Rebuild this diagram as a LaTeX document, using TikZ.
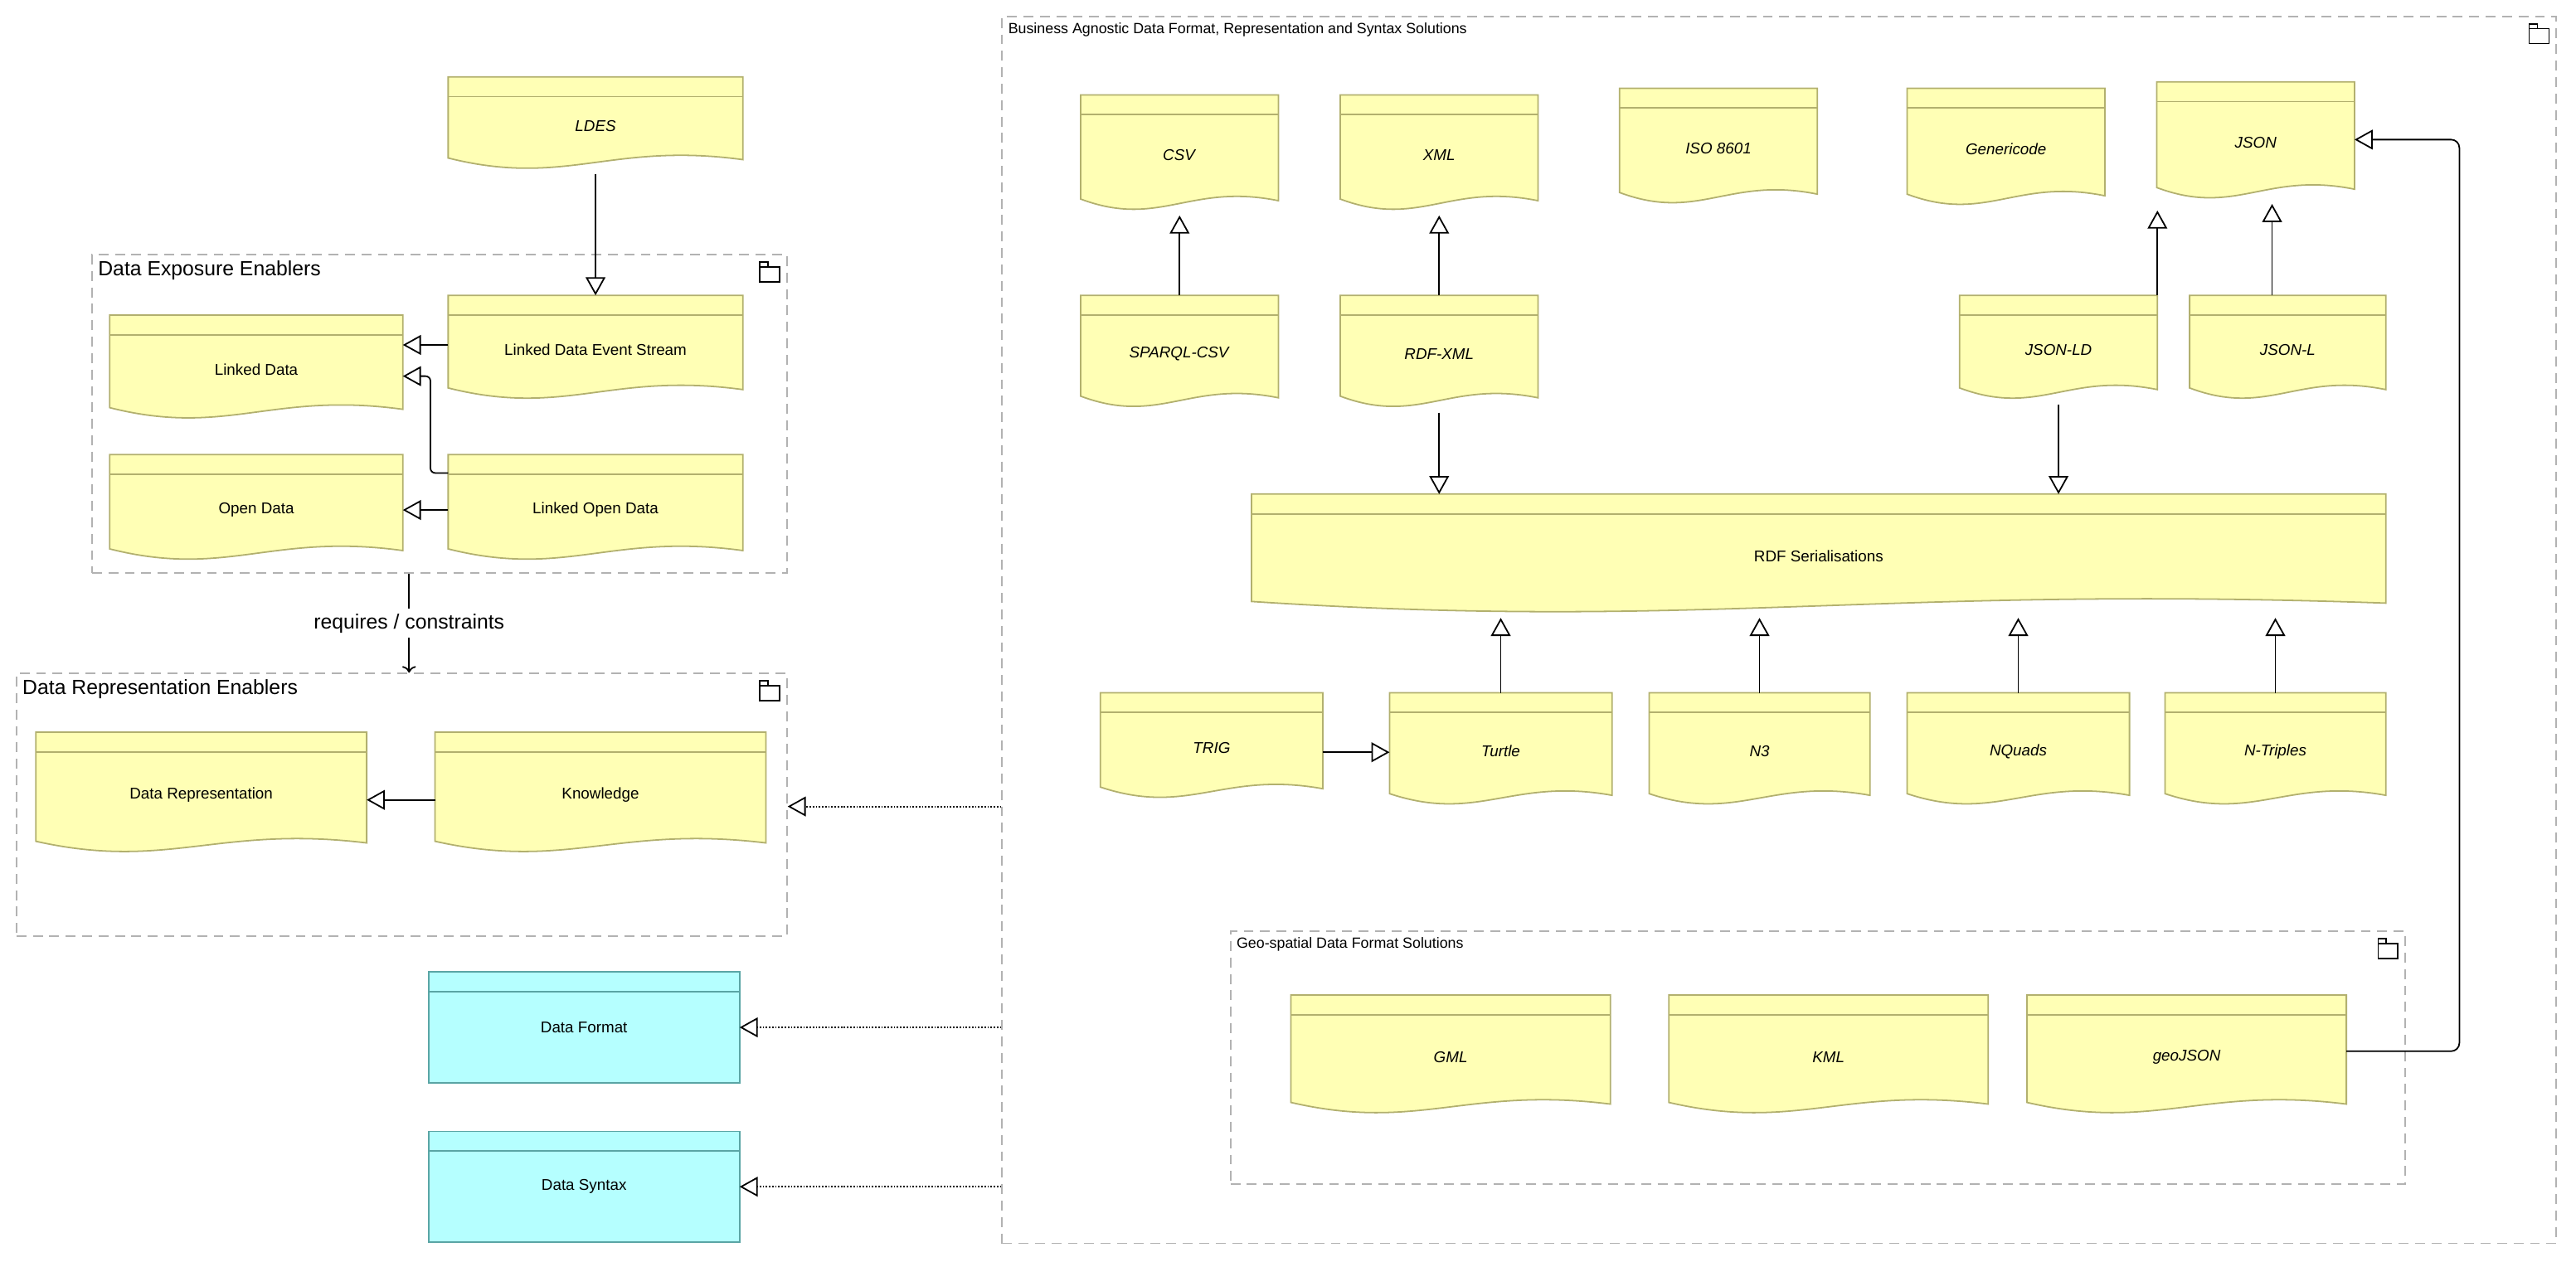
\documentclass[tikz,border=0pt]{standalone}
\usepackage{fontspec}
\setmainfont{Liberation Sans}
\usetikzlibrary{arrows.meta,calc,backgrounds}
\definecolor{docfill}{RGB}{255,255,181}
\definecolor{docline}{RGB}{178,176,110}
\definecolor{cyanfill}{RGB}{181,255,255}
\definecolor{cyanline}{RGB}{90,165,165}
\tikzset{
	doc/.style 2 args={minimum width=#1, minimum height=#2, inner sep=0, font=\fontsize{9.5}{11}\selectfont},
	grp/.style={draw=gray!60, dashed, line width=0.9pt, dash pattern=on 6pt off 4pt, inner sep=0},
	grptitle/.style={anchor=north west, inner sep=4pt},
	spec/.style={-{Triangle[open,length=11pt,width=12pt]}, line width=0.9pt},
	real/.style={densely dotted, -{Triangle[open,length=11pt,width=12pt]}, line width=0.9pt}
}
\begin{document}
\begin{tikzpicture}[x=1pt,y=-1pt]
	\useasboundingbox (0,0) rectangle (1568,768);
	
	% groups
	\node[grp, minimum width=423, minimum height=194, label={[grptitle, font=\fontsize{12.5}{14}\selectfont]north west:Data Exposure Enablers}] at (267.5,252) (expo) {};
	\node[grp, minimum width=469, minimum height=160, label={[grptitle, font=\fontsize{12.5}{14}\selectfont]north west:Data Representation Enablers}] at (244.5,490) (repr) {};
	\node[grp, minimum width=946, minimum height=747, label={[grptitle, font=\fontsize{9}{11}\selectfont]north west:Business Agnostic Data Format, Representation and Syntax Solutions}] at (1083,383.5) (agn) {};
	\node[grp, minimum width=715, minimum height=154, label={[grptitle, font=\fontsize{9}{11}\selectfont]north west:Geo-spatial Data Format Solutions}] at (1106.5,644) (geo) {};
	
	% left side
	\node[doc={179}{59}] at (362.5,76.5) (ldes) {\textit{LDES}};
	\node[doc={179}{66}] at (362.5,213) (leds) {Linked Data Event Stream};
	\node[doc={178}{66}] at (156,225) (ld) {Linked Data};
	\node[doc={178}{67}] at (156,310.5) (od) {Open Data};
	\node[doc={179}{67}] at (362.5,310.5) (lod) {Linked Open Data};
	\node[doc={201}{76}] at (122.5,484) (dr) {Data Representation};
	\node[doc={201}{76}] at (365.5,484) (know) {Knowledge};
	\node[doc={189}{67}] at (355.5,625.5) (dfmt) {Data Format};
	\node[doc={189}{67}] at (355.5,722.5) (dsyn) {Data Syntax};
	
	% right side
	\node[doc={120}{73}] at (718,94.5) (csv) {\textit{CSV}};
	\node[doc={120}{73}] at (876,94.5) (xml) {\textit{XML}};
	\node[doc={120}{73}] at (1046,90.5) (iso) {\textit{ISO 8601}};
	\node[doc={120}{74}] at (1221,91) (gcode) {\textit{Genericode}};
	\node[doc={120}{74}] at (1373,87) (json) {\textit{JSON}};
	\node[doc={120}{71}] at (718,215.5) (sparql) {\textit{SPARQL-CSV}};
	\node[doc={120}{71}] at (876,215.5) (rdfxml) {\textit{RDF-XML}};
	\node[doc={120}{66}] at (1253,213) (jsonld) {\textit{JSON-LD}};
	\node[doc={119}{66}] at (1392.5,213) (jsonl) {\textit{JSON-L}};
	\node[doc={690}{75}] at (1107,338.5) (rdfser) {RDF Serialisations};
	\node[doc={135}{67}] at (737.5,455.5) (trig) {\textit{TRIG}};
	\node[doc={135}{71}] at (913.5,457.5) (turtle) {\textit{Turtle}};
	\node[doc={134}{71}] at (1071,457.5) (nthree) {\textit{N3}};
	\node[doc={135}{71}] at (1228.5,457.5) (nquads) {\textit{NQuads}};
	\node[doc={134}{71}] at (1385,457.5) (ntriples) {\textit{N-Triples}};
	\node[doc={194}{75}] at (883,643.5) (gml) {\textit{GML}};
	\node[doc={194}{75}] at (1113,643.5) (kml) {\textit{KML}};
	\node[doc={194}{75}] at (1331,643.5) (geojson) {\textit{geoJSON}};
	
	\begin{scope}[on background layer]
		\foreach \n in {ldes,leds,ld,od,lod,dr,know,csv,xml,iso,gcode,json,sparql,rdfxml,jsonld,jsonl,rdfser,trig,turtle,nthree,nquads,ntriples,gml,kml,geojson}{
			\filldraw[fill=docfill, draw=docline, line width=0.9pt]
				(\n.north west) -- (\n.north east) -- ($(\n.south east)+(0,-9)$)
				.. controls ($(\n.south east)!0.45!(\n.south west)+(0,-20)$) and ($(\n.south west)!0.4!(\n.south east)+(0,8)$) .. ($(\n.south west)+(0,-10)$) -- cycle;
			\draw[docline, line width=0.9pt] ($(\n.north west)+(0,12)$) -- ($(\n.north east)+(0,12)$);
		}
		\foreach \n in {dfmt,dsyn}{
			\filldraw[fill=cyanfill, draw=cyanline, line width=0.9pt] (\n.north west) rectangle (\n.south east);
			\draw[cyanline, line width=0.9pt] ($(\n.north west)+(0,12)$) -- ($(\n.north east)+(0,12)$);
		}
	\end{scope}
	
	% folder icons
	\foreach \g in {expo,repr,agn,geo}{
		\draw[line width=0.7pt] ($(\g.north east)+(-17,8)$) rectangle ++(12,9);
		\draw[line width=0.7pt] ($(\g.north east)+(-17,8)$) rectangle ++(5,-3);
	}
	
	%Lines
	\draw[spec] (ldes.south) -- (leds.north);
	\draw[spec] (leds.west |- 0,210) -- (ld.east |- 0,210);
	\draw[spec, rounded corners=3] (lod.west |- 0,288) -- (262,288) -- (262,229) -- (ld.east |- 0,229);
	\draw[spec] (lod.west) -- (od.east);
	\draw[line width=0.9pt, -{To[length=4pt]}] (expo.south -| 249,0) -- node[fill=white, font=\fontsize{12.5}{14}\selectfont, inner sep=3pt] {requires / constraints} (repr.north -| 249,0);
	\draw[spec] (know.west |- 0,487) -- (dr.east |- 0,487);
	
	\draw[spec] (sparql.north) -- (csv.south);
	\draw[spec] (rdfxml.north) -- (xml.south);
	\draw[spec] (jsonld.north east) -- (jsonld.north east |- gcode.south);
	\draw[spec] (jsonl.north -| 1383,0) -- (json.south -| 1383,0);
	\draw[spec] (rdfxml.south) -- (rdfser.north -| rdfxml.south);
	\draw[spec] (jsonld.south) -- (rdfser.north -| jsonld.south);
	\foreach \n in {turtle,nthree,nquads,ntriples}
		\draw[spec] (\n.north) -- (\n.north |- rdfser.south);
	\draw[spec] (trig.east |- 0,458) -- (turtle.west |- 0,458);
	\draw[spec, rounded corners=5] (geojson.east |- 0,640) -- (1497,640) -- (1497,85) -- (json.east |- 0,85);
	
	\draw[real] (agn.west |- 0,491) -- (repr.east |- 0,491);
	\draw[real] (agn.west |- dfmt) -- (dfmt.east);
	\draw[real] (agn.west |- dsyn) -- (dsyn.east);
\end{tikzpicture}
\end{document}
